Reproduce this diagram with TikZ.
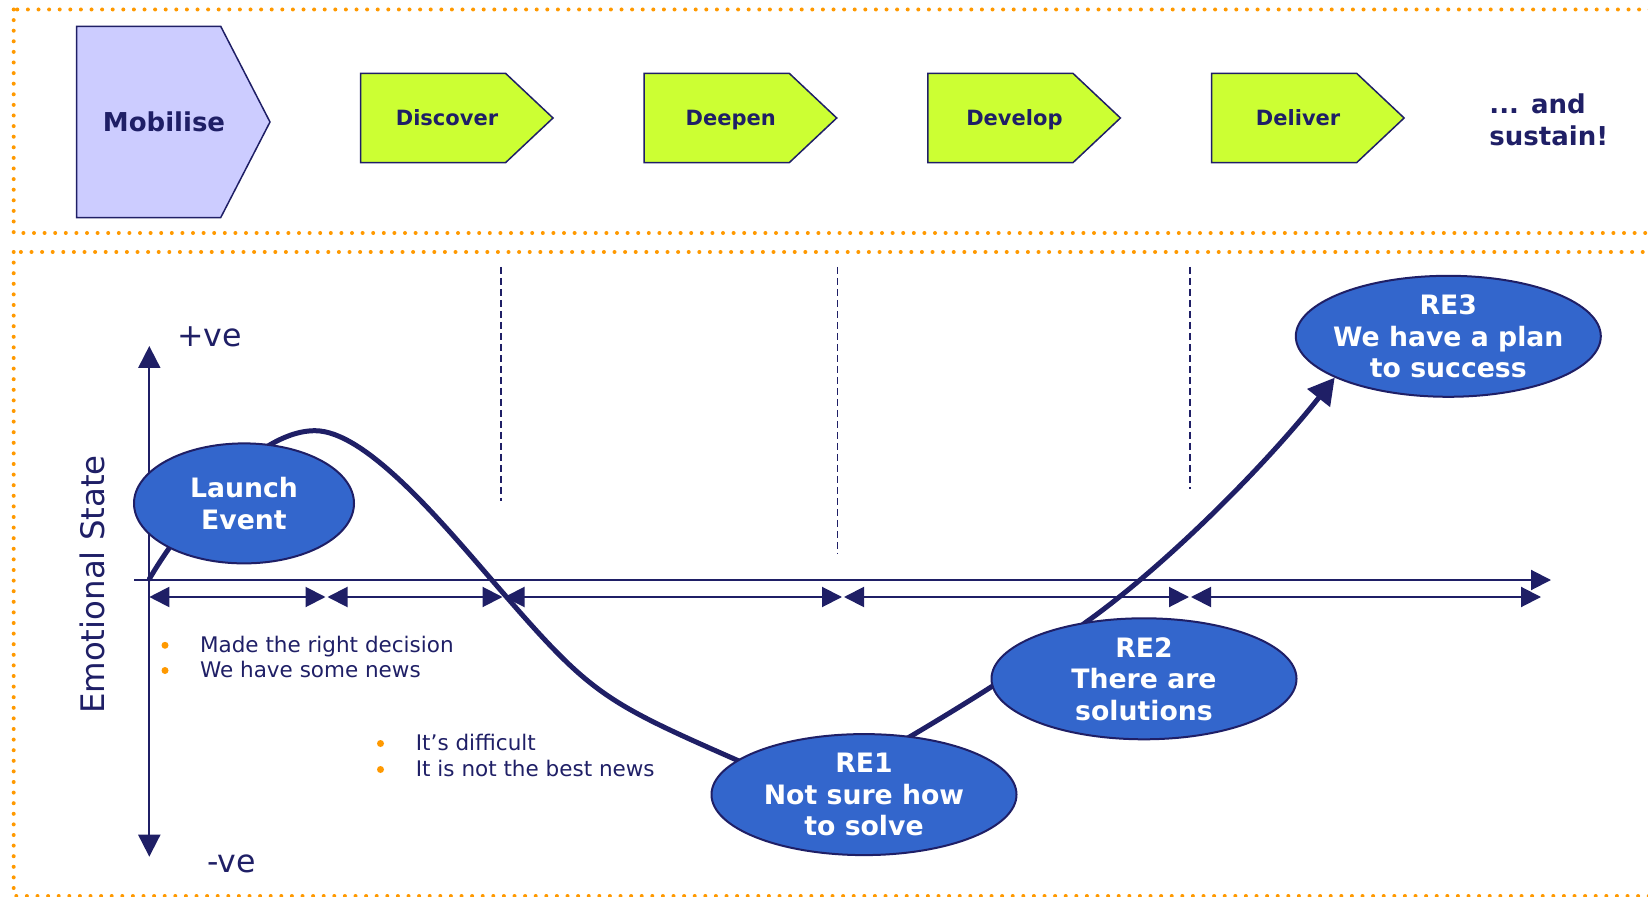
\documentclass[tikz,border=0pt]{standalone}
\usepackage{fontspec}
\setmainfont{DejaVu Sans}
\usetikzlibrary{arrows.meta,shapes.geometric}

\definecolor{navy}{HTML}{1F1F66}
\definecolor{dotorange}{HTML}{FF9900}
\definecolor{phaselime}{HTML}{CCFF33}
\definecolor{lavender}{HTML}{CCCCFF}
\definecolor{bubbleblue}{HTML}{3366CC}

\pgfdeclarelayer{back}
\pgfsetlayers{back,main}

\tikzset{
  frame/.style={dotorange, line width=2pt, line cap=round, dash pattern=on 0pt off 5.3pt},
  guide/.style={navy, line width=0.85pt, dash pattern=on 3.5pt off 2pt},
  phase/.style={draw=navy, line width=0.75pt, fill=phaselime, line join=miter},
  phasetext/.style={text=navy, font=\bfseries\fontsize{10.5}{12}\selectfont, inner sep=0pt, anchor=base},
  axisline/.style={navy, line width=1pt},
  bubble/.style={ellipse, draw=navy, line width=1pt, fill=bubbleblue,
    minimum width=152.5pt, minimum height=60.5pt, inner sep=0pt},
  bubbletext/.style={text=white, font=\bfseries\fontsize{13.35}{15.75}\selectfont,
    align=center, inner sep=0pt},
  note/.style={text=navy, font=\fontsize{10.75}{12.6}\selectfont, anchor=base west, inner sep=0pt},
  bulletdot/.style={circle, fill=dotorange, minimum size=3.5pt, inner sep=0pt},
  journey/.style={navy, line width=2.5pt, line join=round, line cap=round},
  axlabel/.style={text=navy, font=\fontsize{15.8}{18}\selectfont, inner sep=0pt}
}

\begin{document}
\begin{tikzpicture}[x=0.5pt, y=-0.5pt]
\useasboundingbox (0,0) rectangle (1648,897);
\clip (0,0) rectangle (1648,897);

% dotted frames
\draw[frame] (13.7,9.5) rectangle (1700,233);
\draw[frame] (13.7,252) rectangle (1700,896);

% phase banner
\draw[draw=navy, line width=0.75pt, fill=lavender]
  (76.7,26.3) -- (220.7,26.3) -- (270,122) -- (220.7,217.6) -- (76.7,217.6) -- cycle;
\node[phasetext, font=\bfseries\fontsize{13}{15}\selectfont] (mob) at (164,131.5) {Mobilise};

\foreach \x/\name/\lbl in {360.5/disc/Discover, 644.2/deep/Deepen, 927.9/devl/Develop, 1211.6/deli/Deliver}{
  \draw[phase] (\x,73.3) -- (\x+145,73.3) -- (\x+192.5,118) -- (\x+145,162.7) -- (\x,162.7) -- cycle;
  \node[phasetext] (\name) at (\x+86.5,125.7) {\lbl};
}
\node[text=navy, font=\bfseries\fontsize{13}{15}\selectfont, anchor=base west, inner sep=0pt]
  (sus1) at (1489,114) {... and};
\node[text=navy, font=\bfseries\fontsize{13}{15}\selectfont, anchor=base west, inner sep=0pt]
  (sus2) at (1489,145.7) {sustain!};

% phase boundaries
\draw[guide] (501.3,267) -- (501.3,501);
\draw[guide] (837.6,267) -- (837.6,554);
\draw[guide] (1189.7,267) -- (1189.7,489);

% axes
\coordinate (ytop) at (149.3,346);
\coordinate (ybot) at (149.3,856.7);
\coordinate (xleft) at (134,580);
\coordinate (xright) at (1551,580);
\coordinate (o) at (149.3,579);
\draw[axisline, {Triangle[length=11pt,width=11pt]}-{Triangle[length=11pt,width=11pt]}] (ytop) -- (ybot);
\draw[axisline, -{Triangle[length=10pt,width=10pt]}] (xleft) -- (xright);

\foreach \i/\a/\b in {1/149.3/325.5, 2/327.5/502.5, 3/504.5/842, 4/844/1189, 5/1191/1541}{
  \coordinate (seg\i a) at (\a,597);
  \coordinate (seg\i b) at (\b,597);
  \draw[axisline, {Triangle[length=10pt,width=10pt]}-{Triangle[length=10pt,width=10pt]}] (seg\i a) -- (seg\i b);
}

\node[axlabel] (pos) at (209.5,337) {+ve};
\node[axlabel] (neg) at (231.5,864) {-ve};
\node[text=navy, font=\fontsize{16.2}{18}\selectfont, rotate=90, inner sep=0pt] (ylab) at (92,584.5) {Emotional State};

% notes
\node[bulletdot] (d1) at (165,645.3) {};
\node[bulletdot] (d2) at (165,670.5) {};
\node[note] (n1) at (199.7,652) {Made the right decision};
\node[note] (n2) at (199.7,677.2) {We have some news};
\node[bulletdot] (d3) at (380.5,743.5) {};
\node[bulletdot] (d4) at (380.5,769.5) {};
\node[note] (n3) at (415.5,750.2) {It’s difficult};
\node[note] (n4) at (415.5,776.2) {It is not the best news};

% milestones
\node[bubble, minimum width=110pt, minimum height=60pt] (launch) at (244,503.4) {};
\node[bubbletext] (launcht) at (launch) {Launch\\Event};
\node[bubble] (re1) at (864,794.6) {};
\node[bubbletext] (re1t) at (re1) {RE1\\Not sure how\\to solve};
\node[bubble] (re2) at (1144,678.8) {};
\node[bubbletext] (re2t) at (re2) {RE2\\There are\\solutions};
\node[bubble] (re3) at (1448.3,336.3) {};
\node[bubbletext] (re3t) at (re3) {RE3\\We have a plan\\to success};

% emotional journey
\begin{pgfonlayer}{back}
\draw[journey, -{Triangle[length=13pt,width=14pt]}]
  (o) .. controls (175,535) and (250,430.7) .. (315,430.7)
      .. controls (365,430.7) and (440,520) .. (493.3,581.7)
      .. controls (590,693.6) and (600,699.9) .. (736.7,760)
      .. controls (786.7,782) and (860,766.3) .. (910,736.7)
      .. controls (970,701.2) and (1036.7,659.2) .. (1086.7,621.7)
      .. controls (1166.7,564.7) and (1266,464.5) .. (re3.200);
\end{pgfonlayer}
\end{tikzpicture}
\end{document}
